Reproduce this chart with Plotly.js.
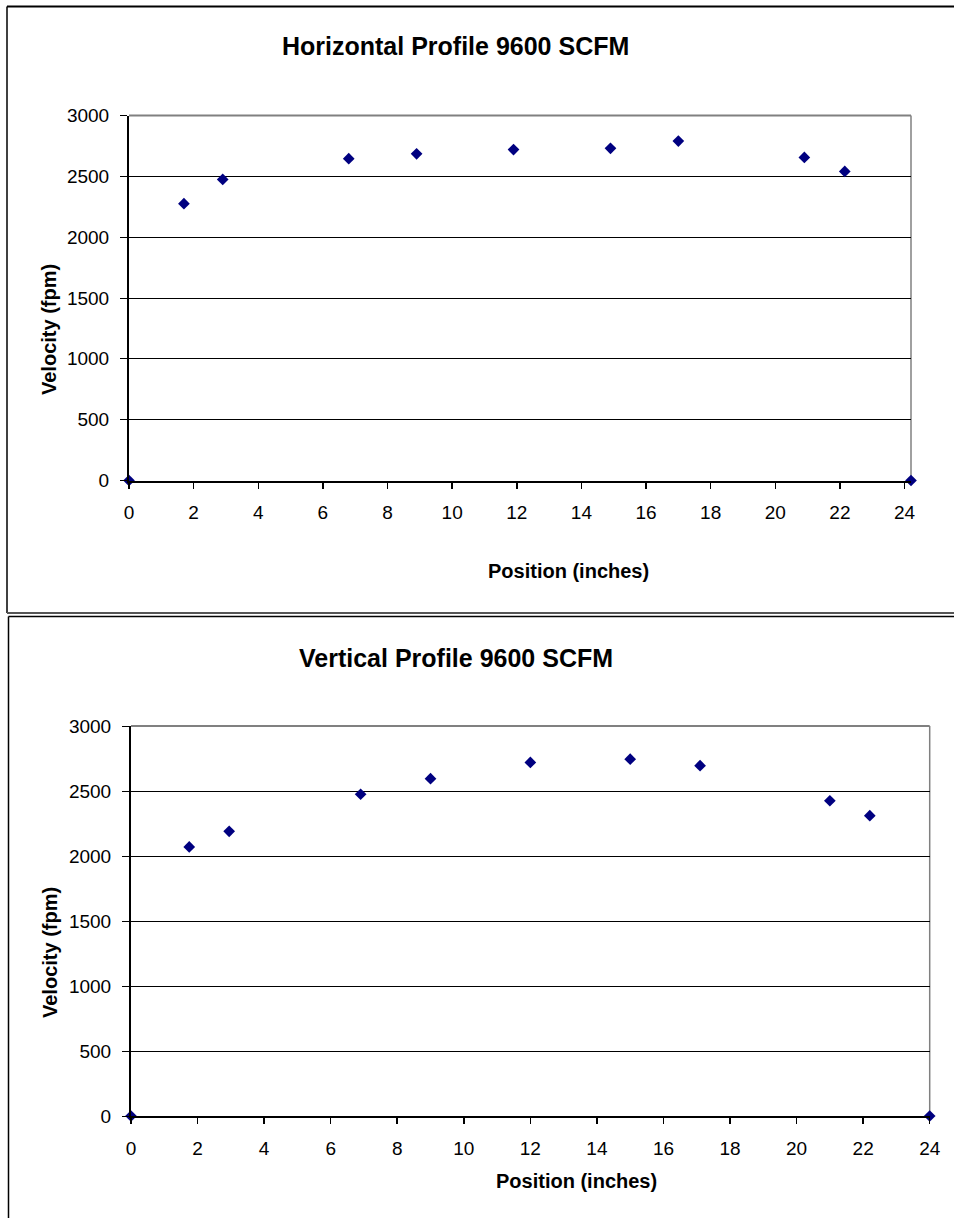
<!DOCTYPE html>
<html>
<head>
<meta charset="utf-8">
<script src="https://cdn.plot.ly/plotly-3.0.1.min.js"></script>
<style>
html,body{margin:0;padding:0;background:#fff;}
#chart{width:954px;height:1218px;}
</style>
</head>
<body>
<div id="chart"></div>
<script>
// ---- Data ----
const horizTitle = "Horizontal Profile 9600 SCFM";
const vertTitle = "Vertical Profile 9600 SCFM";
const xAxisTitle = "Position (inches)";
const yAxisTitle = "Velocity (fpm)";

const horizPosition = [0, 1.7, 2.9, 6.8, 8.9, 11.9, 14.9, 17.0, 20.9, 22.15, 24.2];
const horizVelocity = [0, 2275, 2475, 2645, 2685, 2720, 2730, 2790, 2655, 2540, 0];

const vertPosition = [0, 1.75, 2.95, 6.9, 9.0, 12.0, 15.0, 17.1, 21.0, 22.2, 24.0];
const vertVelocity = [0, 2070, 2190, 2475, 2595, 2720, 2745, 2695, 2425, 2310, 0];

const xTicks = [0, 2, 4, 6, 8, 10, 12, 14, 16, 18, 20, 22, 24];
const yTicks = [0, 500, 1000, 1500, 2000, 2500, 3000];

// ---- Layout helpers (pixel -> paper) ----
const W = 954, H = 1218;
const PX = p => p / W;
const PY = p => 1 - p / H;

const FONT = "Liberation Sans, Arial, sans-serif";
const navy = "#000080";

const marker = {symbol: "diamond", size: 9, color: navy, line: {width: 0}};

const traces = [
  {x: horizPosition, y: horizVelocity, type: "scatter", mode: "markers",
   marker: marker, xaxis: "x", yaxis: "y", cliponaxis: false, hoverinfo: "x+y"},
  {x: vertPosition, y: vertVelocity, type: "scatter", mode: "markers",
   marker: marker, xaxis: "x2", yaxis: "y2", cliponaxis: false, hoverinfo: "x+y"}
];

function xAx(domain, range, anchor) {
  return {
    domain: domain, range: range, anchor: anchor,
    tickmode: "array", tickvals: xTicks, ticktext: xTicks.map(String),
    ticks: "outside", ticklen: 6, tickwidth: 1.5, tickcolor: "#000",
    showline: true, linecolor: "#000", linewidth: 2,
    showgrid: false, zeroline: false,
    tickfont: {family: FONT, size: 19, color: "#000"},
    ticklabelstandoff: 8, fixedrange: true
  };
}
function yAx(domain, anchor) {
  return {
    domain: domain, range: [0, 3000], anchor: anchor,
    tickmode: "array", tickvals: yTicks, ticktext: yTicks.map(String),
    ticks: "outside", ticklen: 7, tickwidth: 1, tickcolor: "#000",
    showline: true, linecolor: "#000", linewidth: 2,
    showgrid: true, gridcolor: "#000", gridwidth: 1,
    zeroline: false,
    tickfont: {family: FONT, size: 19, color: "#000"},
    ticklabelstandoff: 7, fixedrange: true
  };
}

const top1 = 115.5, bot1 = 480.5, left1 = 129, right1 = 911;
const top2 = 726, bot2 = 1116, left2 = 131, right2 = 929.7;

const shapes = [
  // outer frames
  {type: "line", xref: "paper", yref: "paper", x0: PX(7), x1: PX(7), y0: PY(6.5), y1: PY(613), line: {color: "#000", width: 1.5}},
  {type: "line", xref: "paper", yref: "paper", x0: PX(7), x1: 1.01, y0: PY(6.5), y1: PY(6.5), line: {color: "#000", width: 2}},
  {type: "line", xref: "paper", yref: "paper", x0: PX(7), x1: 1.01, y0: PY(613), y1: PY(613), line: {color: "#555", width: 2}},
  {type: "line", xref: "paper", yref: "paper", x0: PX(8.5), x1: 1.01, y0: PY(616.5), y1: PY(616.5), line: {color: "#000", width: 1.5}},
  {type: "line", xref: "paper", yref: "paper", x0: PX(8.5), x1: PX(8.5), y0: PY(616.5), y1: -0.01, line: {color: "#000", width: 1.5}},
  // plot area top/right borders (gray)
  {type: "line", xref: "paper", yref: "paper", layer: "between", x0: PX(left1), x1: PX(right1), y0: PY(top1), y1: PY(top1), line: {color: "#808080", width: 2}},
  {type: "line", xref: "paper", yref: "paper", layer: "between", x0: PX(right1), x1: PX(right1), y0: PY(top1), y1: PY(bot1), line: {color: "#808080", width: 1.5}},
  {type: "line", xref: "paper", yref: "paper", layer: "between", x0: PX(left2), x1: PX(right2), y0: PY(top2), y1: PY(top2), line: {color: "#808080", width: 2}},
  {type: "line", xref: "paper", yref: "paper", layer: "between", x0: PX(right2), x1: PX(right2), y0: PY(top2), y1: PY(bot2), line: {color: "#808080", width: 1.5}}
];

function ann(text, xpx, ypx, size, angle) {
  return {text: text, xref: "paper", yref: "paper", x: PX(xpx), y: PY(ypx),
    xanchor: "center", yanchor: "middle", showarrow: false, textangle: angle || 0,
    font: {family: FONT, size: size, color: "#000", weight: "bold"}};
}

const annotations = [
  ann(horizTitle, 455, 46, 25),
  ann(vertTitle, 456, 658, 25),
  ann(xAxisTitle, 568, 571, 20),
  ann(xAxisTitle, 576, 1181, 20),
  ann(yAxisTitle, 49, 330, 20, -90),
  ann(yAxisTitle, 50, 953, 20, -90)
];

const layout = {
  width: W, height: H,
  margin: {l: 0, r: 0, t: 0, b: 0, pad: 0},
  paper_bgcolor: "#fff", plot_bgcolor: "#fff",
  showlegend: false,
  font: {family: FONT, color: "#000"},
  xaxis: xAx([PX(left1), PX(right1)], [0, 24.2], "y"),
  yaxis: yAx([PY(bot1), PY(top1)], "x"),
  xaxis2: xAx([PX(left2), PX(right2)], [0, 24], "y2"),
  yaxis2: yAx([PY(bot2), PY(top2)], "x2"),
  shapes: shapes,
  annotations: annotations
};

Plotly.newPlot("chart", traces, layout, {staticPlot: true, displayModeBar: false});
</script>
</body>
</html>
